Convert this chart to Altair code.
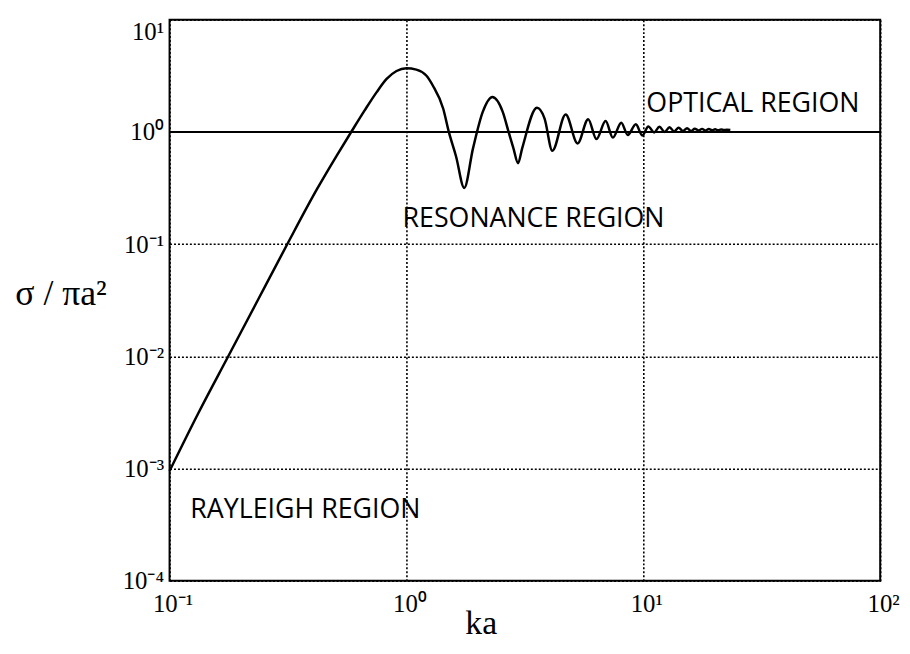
import altair as alt
import pandas as pd

# Curve (ka, sigma / pi a^2)
ka = [0.1, 0.1322, 0.1765, 0.2357, 0.3147, 0.4202, 0.5094, 0.5888, 0.6672, 0.7489,
      0.8248, 0.9083, 1.0, 1.101, 1.2125, 1.292, 1.43, 1.51, 1.62, 1.754, 1.91, 2.10,
      2.305, 2.55, 2.70, 2.83, 2.96, 3.08, 3.556, 3.83, 4.13, 4.70, 5.28, 5.85, 6.34,
      6.93, 7.44, 8.07, 8.6, 9.3, 9.9, 10.5, 11.1, 11.7, 12.3, 12.9, 13.5, 14.1, 14.7,
      15.3, 15.9, 16.5, 17.1, 17.7, 18.3, 18.9, 19.5, 20.1, 20.7, 21.3, 21.9, 22.5, 23.3]
sigma = [0.00095, 0.00311, 0.00992, 0.0316, 0.1008, 0.312, 0.622, 1.025, 1.564, 2.265,
         2.969, 3.494, 3.69, 3.595, 3.182, 2.594, 1.61, 1.0, 0.604, 0.317, 0.714, 1.51,
         2.05, 1.51, 1.0, 0.714, 0.527, 0.714, 1.64, 1.315, 0.68, 1.43, 0.79, 1.30, 0.865,
         1.25, 0.89, 1.21, 0.94, 1.17, 0.93, 1.12, 0.99, 1.11, 1.0, 1.1, 1.01, 1.09, 1.02,
         1.08, 1.02, 1.07, 1.03, 1.065, 1.03, 1.06, 1.035, 1.055, 1.035, 1.05, 1.04, 1.045,
         1.04]

note_text = ["OPTICAL REGION", "RESONANCE REGION", "RAYLEIGH REGION"]
note_ka = [10.3, 0.963, 0.1224]
note_sigma = [1.77, 0.168, 0.00043]

x_ticks = [0.1, 1, 10, 100]
y_ticks = [0.0001, 0.001, 0.01, 0.1, 1, 10]
optical_level = [1.0]

sup = {-4: "⁻⁴", -3: "⁻³", -2: "⁻²", -1: "⁻¹", 0: "⁰", 1: "¹", 2: "²"}
e = "round(log(datum.value)/LN10)"
label_expr = "'10' + (" + " : ".join(f"{e} == {k} ? '{v}'" for k, v in sup.items()) + " : '')"

curve = pd.DataFrame({"ka": ka, "sigma": sigma})
notes = pd.DataFrame({"ka": note_ka, "sigma": note_sigma, "text": note_text})
level = pd.DataFrame({"sigma": optical_level})

xscale = alt.Scale(type="log", domain=[0.1, 100], nice=False)
yscale = alt.Scale(type="log", domain=[0.0001, 10], nice=False)

serif = "Liberation Serif"
grid_common = dict(grid=True, gridDash=[2, 2], gridColor="black", gridWidth=1.6,
                   gridOpacity=1, ticks=False, domain=False, labelFont=serif,
                   labelFontSize=25, labelColor="black", labelOverlap=False,
                   labelFlush=False, labelExpr=label_expr, titleFont=serif,
                   titleFontWeight="normal", titleColor="black")

xaxis = alt.Axis(values=x_ticks, labelPadding=11, labelOffset=3, title="ka", titleFontSize=34,
                 titleX=314, titleY=53, titleBaseline="alphabetic", titleAlign="center",
                 **grid_common)
yaxis = alt.Axis(values=y_ticks, labelPadding=6,
                 labelBaseline={"condition": {"test": "datum.value >= 10", "value": "top"},
                                "value": "middle"},
                 title="σ / πa²", titleFontSize=36, titleAngle=0, titleX=-110, titleY=287,
                 titleBaseline="alphabetic", titleAlign="center", **grid_common)

line = alt.Chart(curve).mark_line(color="black", strokeWidth=2.5, interpolate="monotone").encode(
    x=alt.X("ka:Q", scale=xscale, axis=xaxis),
    y=alt.Y("sigma:Q", scale=yscale, axis=yaxis),
)

rule = alt.Chart(level).mark_rule(color="black", strokeWidth=2).encode(
    y=alt.Y("sigma:Q", scale=yscale),
)

text = alt.Chart(notes).mark_text(align="left", baseline="middle", font="Open Sans",
                                  fontSize=27, color="black").encode(
    x=alt.X("ka:Q", scale=xscale),
    y=alt.Y("sigma:Q", scale=yscale),
    text="text:N",
)

chart = alt.layer(rule, line, text).properties(
    width=717, height=566,
    autosize=alt.AutoSizeParams(type="none"),
    padding={"left": 163, "top": 9, "right": 22, "bottom": 61},
    background="white",
).configure_view(stroke="black", strokeWidth=2)

chart.save("out.html", embed_options={"renderer": "svg", "actions": False})
